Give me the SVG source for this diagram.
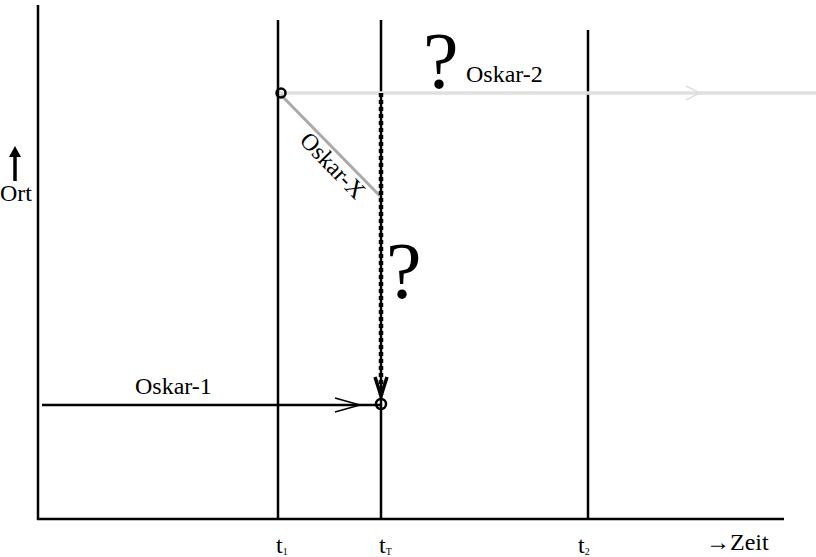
<svg xmlns="http://www.w3.org/2000/svg" width="816" height="557" viewBox="0 0 816 557">
<style>
.t{font-family:"Liberation Serif","Times New Roman",serif;fill:#000}
.ax{stroke:#000;stroke-width:2.5;fill:none}
.lbl{font-size:24px}
.q{font-size:80px}
</style>
<rect width="816" height="557" fill="#fff"/>
<g id="axes">
<line class="ax" x1="38" y1="5" x2="38" y2="520"/>
<line class="ax" x1="37" y1="519" x2="784" y2="519"/>
</g>
<g id="time-lines">
<line class="ax" x1="278" y1="20" x2="278" y2="519"/>
<line class="ax" x1="381" y1="20" x2="381" y2="519"/>
<line class="ax" x1="588" y1="30" x2="588" y2="519"/>
</g>
<g id="connectors">
<line x1="280" y1="93" x2="816" y2="93" stroke="#e0e0e0" stroke-width="3.5"/>
<polyline points="686,86 700,93 686,100" fill="none" stroke="#e0e0e0" stroke-width="1.5"/>
<line x1="281" y1="95" x2="380" y2="196" stroke="#aaa" stroke-width="3"/>
<line x1="42" y1="405" x2="381" y2="405" stroke="#000" stroke-width="2.5"/>
<polyline points="335,398 360,405 335,412" fill="none" stroke="#000" stroke-width="1.5"/>
<line x1="381" y1="93" x2="381" y2="398" stroke="#000" stroke-width="2"/>
<line x1="381" y1="93" x2="381" y2="395" stroke="#000" stroke-width="4.5" stroke-dasharray="4 3"/>
<polyline points="375,377 381,396 387,377" fill="none" stroke="#000" stroke-width="3.5"/>
</g>
<g id="events">
<circle cx="281" cy="93" r="4.5" fill="none" stroke="#000" stroke-width="2.5"/>
<circle cx="381" cy="404" r="5" fill="none" stroke="#000" stroke-width="2.5"/>
</g>
<g id="labels">
<text class="t q" x="423" y="88">?</text>
<text class="t lbl" x="466" y="82">Oskar-2</text>
<text class="t q" x="386" y="298">?</text>
<text class="t lbl" x="135" y="394">Oskar-1</text>
<text class="t lbl" transform="translate(327,171) rotate(46)" text-anchor="middle">Oskar-X</text>
<text class="t lbl" x="0" y="201">Ort</text>
<text class="t lbl" x="276" y="553">t<tspan font-size="10" dy="2">1</tspan></text>
<text class="t lbl" x="379" y="553">t<tspan font-size="10" dy="2">T</tspan></text>
<text class="t lbl" x="578" y="553">t<tspan font-size="10" dy="2">2</tspan></text>
<text class="t lbl" x="706" y="550"><tspan font-weight="bold">→</tspan>Zeit</text>
</g>
<g id="ort-arrow">
<line x1="15" y1="155" x2="15" y2="181" stroke="#000" stroke-width="3.5"/>
<polygon points="9,157 15,146 21,157" fill="#000"/>
</g>
</svg>
